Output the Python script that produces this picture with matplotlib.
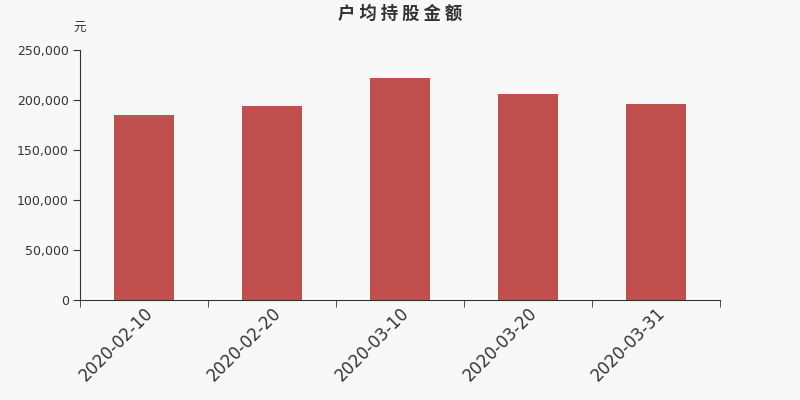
import matplotlib.pyplot as plt
import numpy as np

plt.rcParams['font.family'] = ['DejaVu Sans', 'Noto Sans CJK SC']

# 数据
dates = ['2020-02-10', '2020-02-20', '2020-03-10', '2020-03-20', '2020-03-31']
amounts = [185000, 194000, 221700, 205700, 196000]

bg = '#f8f8f8'
fig = plt.figure(figsize=(8, 4), dpi=100, facecolor=bg)
ax = fig.add_axes([0.1, 0.25, 0.8, 0.625], facecolor=bg)

x = np.arange(len(dates))
ax.bar(x, amounts, width=60 / 128, color='#c0504d')

ax.set_xlim(-0.5, len(dates) - 0.5)
ax.set_ylim(0, 250000)
ax.set_yticks(np.arange(0, 250001, 50000))
ax.set_yticklabels([f'{v:,}' for v in range(0, 250001, 50000)], fontsize=9, color='#333333')

ax.set_xticks(x)
ax.set_xticklabels(dates, rotation=45, ha='right', rotation_mode='anchor',
                   fontsize=12, color='#333333')
ax.tick_params(axis='x', which='major', length=0, pad=3)
ax.set_xticks(np.arange(-0.5, len(dates)), minor=True)
ax.tick_params(axis='x', which='minor', length=5, color='#333333')
ax.tick_params(axis='y', length=5, color='#333333', pad=3)

for s in ['top', 'right']:
    ax.spines[s].set_visible(False)
for s in ['left', 'bottom']:
    ax.spines[s].set_color('#333333')

fig.text(0.5, 0.965, '户 均 持 股 金 额', ha='center', va='center',
         fontsize=12.5, fontweight='bold', color='#333333',
         family=['Noto Sans CJK SC', 'DejaVu Sans'])
fig.text(0.1, 0.93, '元', ha='center', va='center', fontsize=9, color='#333333',
         family=['Noto Sans CJK SC', 'DejaVu Sans'])

fig.savefig('out.png', dpi=100, facecolor=bg)
